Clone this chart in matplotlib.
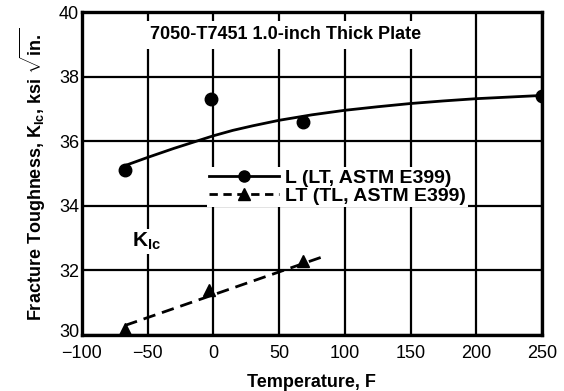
import numpy as np
import matplotlib
matplotlib.use("Agg")
import matplotlib.pyplot as plt
import matplotlib.transforms as mtrans

# ------------------------------------------
# Data
# ------------------------------------------
l_temp = [-67, -2, 68, 250]
l_kic = [35.1, 37.3, 36.6, 37.4]

# faired curve through the L data
l_fit_temp = [-67, -50, -30, -10, 0, 15, 30, 50, 75, 100, 125, 150, 175, 200, 225, 250]
l_fit_kic = [35.25, 35.5, 35.78, 36.04, 36.17, 36.34, 36.48, 36.65, 36.82, 36.96,
             37.07, 37.17, 37.25, 37.32, 37.37, 37.42]

lt_temp = [-67, -3, 68]
lt_kic = [30.2, 31.4, 32.3]

# dashed fit for LT
lt_fit_temp = [-67, 85]
lt_fit_kic = [30.3, 32.45]

x_ticks = [-100, -50, 0, 50, 100, 150, 200, 250]
y_ticks = [30, 32, 34, 36, 38, 40]

plt.rcParams['font.family'] = ['Liberation Sans', 'DejaVu Sans']
plt.rcParams['font.weight'] = 'bold'
plt.rcParams['axes.labelweight'] = 'bold'
plt.rcParams['mathtext.fontset'] = 'custom'
plt.rcParams['mathtext.rm'] = 'Liberation Sans:bold'
plt.rcParams['mathtext.it'] = 'Liberation Sans:bold'
plt.rcParams['mathtext.bf'] = 'Liberation Sans:bold'

fig = plt.figure(figsize=(5.64, 3.91), dpi=100)
ax = fig.add_axes([0.145, 0.143, 0.816, 0.826])

# curves
ax.plot(l_fit_temp, l_fit_kic, color='black', lw=2, zorder=3)
ax.plot(l_temp, l_kic, 'o', color='black', ms=9, zorder=4)
ax.plot(lt_fit_temp, lt_fit_kic, color='black', lw=2, ls=(0, (4.5, 2.5)), zorder=3)
ax.plot(lt_temp, lt_kic, '^', color='black', ms=9, zorder=4)

# legend proxies
h1, = ax.plot([], [], color='black', lw=2, marker='o', ms=8)
h2, = ax.plot([], [], color='black', lw=2, ls=(0, (3, 2)), marker='^', ms=8)
leg = ax.legend([h1, h2], ['L (LT, ASTM E399)', 'LT (TL, ASTM E399)'],
                loc='upper left', bbox_to_anchor=(0.272, 0.52), frameon=True,
                fancybox=False, framealpha=1, edgecolor='none', facecolor='white',
                fontsize=14, handlelength=3.6, handletextpad=0.3, labelspacing=0.05,
                borderpad=0.1, borderaxespad=0)
leg.set_zorder(5)

ax.set_xlim(-100, 250)
ax.set_ylim(30, 40)
ax.set_xticks(x_ticks)
ax.set_yticks(y_ticks)
ax.tick_params(length=0, labelsize=13)
ax.tick_params(axis='x', pad=7)
ax.tick_params(axis='y', pad=2)
for lab in ax.get_xticklabels() + ax.get_yticklabels():
    lab.set_fontweight('normal')
# lift the bottom y label a touch so it clears "-100"
lab30 = ax.get_yticklabels()[0]
lab30.set_transform(lab30.get_transform() +
                    mtrans.ScaledTranslation(0, 3 / 72, fig.dpi_scale_trans))
ax.grid(True, color='black', lw=1.6)
ax.set_axisbelow(True)
for s in ax.spines.values():
    s.set_linewidth(2.4)

ax.text(55, 39.3, '7050-T7451 1.0-inch Thick Plate', ha='center', va='center',
        fontsize=13, zorder=5,
        bbox=dict(facecolor='white', edgecolor='none', pad=4))
ax.text(-62, 32.9, r'K$_\mathregular{Ic}$', ha='left', va='center', fontsize=15,
        zorder=5, bbox=dict(facecolor='white', edgecolor='none', pad=1))

ax.set_xlabel('Temperature, F', fontsize=13, labelpad=9)
ax.set_ylabel(r'Fracture Toughness, K$_\mathregular{Ic}$, ksi $\sqrt{\mathregular{in.}}$',
              fontsize=13, labelpad=8)

fig.savefig('out.png', dpi=100)
